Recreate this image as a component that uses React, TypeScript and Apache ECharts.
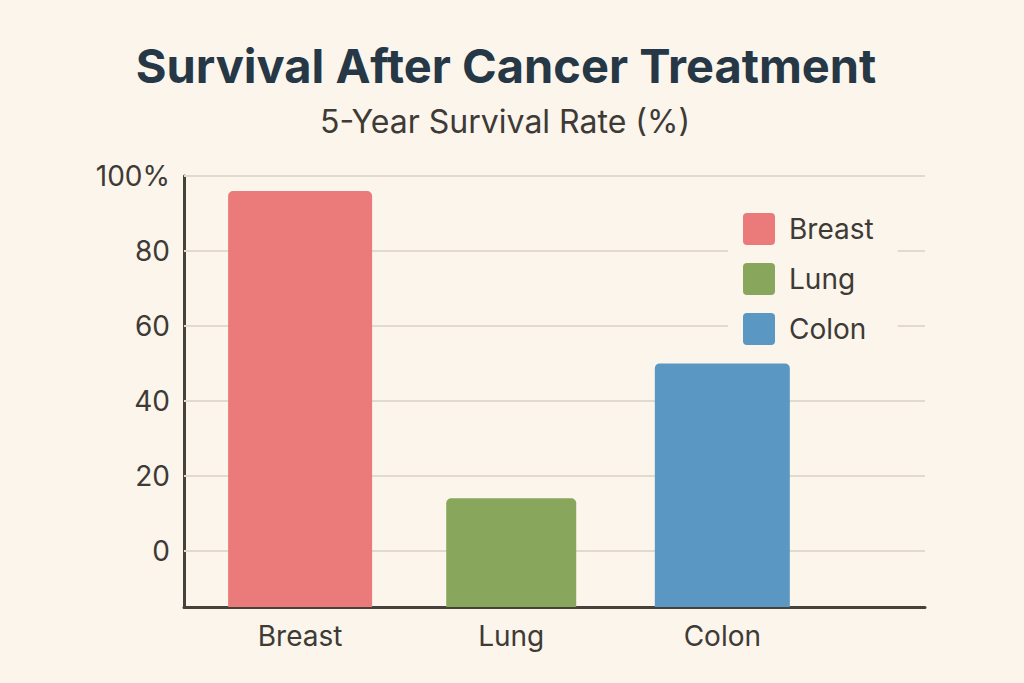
import React, { useEffect, useRef } from "react";
import * as echarts from "echarts";

const categories = ["Breast", "Lung", "Colon"];
const survivalRates = [96, 14, 50];
const yTickValues = [0, 20, 40, 60, 80, 100];
const barColors = ["#EB7B7A", "#89A75C", "#5A97C2"];
const barWidths = [144, 130, 135];

const BG = "#FBF5EC";
const Y_MIN = -15;
const Y_MAX = 100;
const FONT = "Inter, 'Noto Sans', sans-serif";
const TEXT = "#3E3A35";
const ICON =
  "path://M4,0H28A4,4 0 0 1 32,4V28A4,4 0 0 1 28,32H4A4,4 0 0 1 0,28V4A4,4 0 0 1 4,0Z";

export default function App() {
  const ref = useRef<HTMLDivElement>(null);

  useEffect(() => {
    if (!ref.current) return;
    const chart = echarts.init(ref.current, undefined, { renderer: "svg" });

    const barSeries = categories.map((name, i) => ({
      name,
      type: "custom",
      z: 3,
      itemStyle: { color: barColors[i] },
      data: [[i, survivalRates[i]]],
      renderItem: (params: any, api: any) => {
        const top = api.coord([api.value(0), api.value(1)]);
        const bottom = api.coord([api.value(0), Y_MIN]);
        const w = barWidths[i];
        return {
          type: "rect",
          shape: {
            x: top[0] - w / 2,
            y: top[1],
            width: w,
            height: bottom[1] - top[1],
            r: [5, 5, 0, 0],
          },
          style: { fill: barColors[i] },
        };
      },
    }));

    const option: any = {
      animation: false,
      backgroundColor: BG,
      title: [
        {
          text: "Survival After Cancer Treatment",
          left: 506,
          textAlign: "center",
          top: 42,
          padding: 0,
          textStyle: {
            fontFamily: FONT,
            fontSize: 47,
            fontWeight: "bold",
            color: "#263746",
          },
        },
        {
          text: "5-Year Survival Rate (%)",
          left: 505,
          textAlign: "center",
          top: 105,
          padding: 0,
          textStyle: {
            fontFamily: FONT,
            fontSize: 32,
            fontWeight: "normal",
            color: TEXT,
          },
        },
      ],
      legend: {
        orient: "vertical",
        left: 728,
        top: 203,
        padding: [10, 24, 10, 15],
        backgroundColor: BG,
        itemWidth: 32,
        itemHeight: 32,
        itemGap: 18,
        icon: ICON,
        data: categories,
        textStyle: {
          fontFamily: FONT,
          fontSize: 28,
          color: TEXT,
          padding: [0, 0, 0, 9],
        },
        z: 6,
      },
      grid: { left: 184, right: 99, top: 176, bottom: 76 },
      xAxis: {
        type: "value",
        min: -0.55,
        max: 2.96,
        splitLine: { show: false },
        axisTick: { show: false },
        axisLine: { show: true, onZero: false, lineStyle: { color: "#45413B", width: 3 } },
        axisLabel: {
          customValues: [0, 1, 2],
          formatter: (v: number) => categories[Math.round(v)] ?? "",
          fontFamily: FONT,
          fontSize: 28,
          color: TEXT,
          margin: 15,
        },
      },
      yAxis: {
        type: "value",
        min: Y_MIN,
        max: Y_MAX,
        splitLine: { show: false },
        axisTick: { show: false },
        axisLine: { show: true, onZero: false, lineStyle: { color: "#45413B", width: 3 } },
        axisLabel: {
          customValues: yTickValues,
          formatter: (v: number) => (v === 100 ? "100%" : String(v)),
          fontFamily: FONT,
          fontSize: 28,
          color: TEXT,
          margin: 14,
        },
      },
      series: [
        {
          name: "grid",
          type: "line",
          data: [],
          z: 1,
          silent: true,
          markLine: {
            silent: true,
            z: 1,
            symbol: "none",
            label: { show: false },
            lineStyle: { color: "#E2DACD", width: 2, type: "solid" },
            data: yTickValues.map((v) => ({ yAxis: v })),
          },
        },
        ...barSeries,
      ],
    };

    chart.setOption(option);
    return () => chart.dispose();
  }, []);

  return (
    <div
      ref={ref}
      style={{ position: "fixed", left: 0, top: 0, width: 1024, height: 683 }}
    />
  );
}
